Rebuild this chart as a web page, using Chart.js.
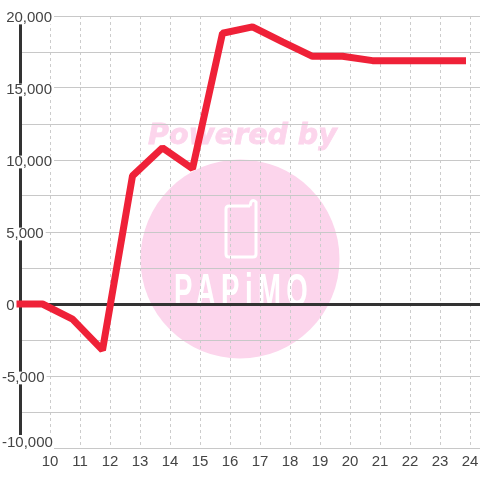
<!DOCTYPE html>
<html>
<head>
<meta charset="utf-8">
<style>
  html, body { margin: 0; padding: 0; background: #fff; }
  #wrap { width: 480px; height: 480px; }
</style>
<script src="https://cdn.jsdelivr.net/npm/chart.js@4"></script>
</head>
<body>
<div id="wrap"><canvas id="chart"></canvas></div>
<script>
// Hours and values
const hours = [9, 9.75, 10.75, 11.75, 12.75, 13.75, 14.75, 15.75, 16.75, 17.75, 18.75, 19.75, 20.75, 21.75, 22.75, 23.75];
const profit = [0, 0, -1050, -3200, 8900, 10850, 9400, 18800, 19250, 18200, 17200, 17200, 16900, 16900, 16900, 16900];
const yTickLabels = ["-10,000", "-5,000", "0", "5,000", "10,000", "15,000", "20,000"];
const yTickValues = [-10000, -5000, 0, 5000, 10000, 15000, 20000];

const PINK = "#fcd5ec";
const LABEL_FONT = '"Liberation Sans"';

// Watermark sits under the grid, so it goes in before the axes are drawn
const watermark = {
  id: "watermark",
  beforeDraw(chart) {
    const ctx = chart.ctx;
    ctx.save();
    ctx.fillStyle = "#fff";
    ctx.fillRect(0, 0, chart.width, chart.height);

    ctx.fillStyle = PINK;
    ctx.beginPath();
    ctx.arc(240, 259, 99.5, 0, Math.PI * 2);
    ctx.fill();

    ctx.font = 'italic bold 28.5px "DejaVu Sans"';
    ctx.textAlign = "left";
    ctx.textBaseline = "alphabetic";
    ctx.strokeStyle = PINK;
    ctx.lineWidth = 0.8;
    ctx.fillText("Powered by", 148, 144);
    ctx.strokeText("Powered by", 148, 144);

    // phone
    ctx.strokeStyle = "#fff";
    ctx.lineWidth = 3;
    ctx.lineJoin = "round";
    ctx.beginPath();
    ctx.moveTo(250, 206);
    ctx.lineTo(229, 206);
    ctx.quadraticCurveTo(226, 206, 226, 209);
    ctx.lineTo(226, 254);
    ctx.quadraticCurveTo(226, 257, 229, 257);
    ctx.lineTo(253, 257);
    ctx.quadraticCurveTo(256, 257, 256, 254);
    ctx.lineTo(256, 202);
    ctx.quadraticCurveTo(253, 199, 251, 202);
    ctx.lineTo(250, 206);
    ctx.stroke();

    // logo letters are tall and narrow, squeeze a bold sans
    ctx.fillStyle = "#fff";
    ctx.translate(174, 306);
    ctx.scale(0.6, 1);
    ctx.font = 'bold 46px "Liberation Sans"';
    ctx.letterSpacing = "9px";
    ctx.fillText("PAPiMO", 0, 0);
    ctx.restore();
  },
};

// The bottom label sits higher than its grid line, which the ticks can't do on their own
const bottomLabel = {
  id: "bottomLabel",
  beforeDatasetsDraw(chart) {
    const ctx = chart.ctx;
    const y = chart.scales.y.getPixelForValue(yTickValues[0]);
    ctx.save();
    ctx.fillStyle = "#fff";
    ctx.fillRect(0, y - 13, 54, 14);
    ctx.fillStyle = "#444";
    ctx.font = "15px " + LABEL_FONT;
    ctx.textAlign = "left";
    ctx.textBaseline = "middle";
    ctx.fillText(yTickLabels[0], 2, y - 5);
    ctx.restore();
  },
};

new Chart(document.getElementById("chart"), {
  type: "line",
  data: {
    datasets: [
      {
        data: hours.map((h, i) => ({ x: h, y: profit[i] })),
        borderColor: "#ef2138",
        borderWidth: 7,
        borderCapStyle: "square",
        borderJoinStyle: "bevel",
        pointRadius: 0,
        tension: 0,
        clip: false,
      },
    ],
  },
  options: {
    responsive: true,
    maintainAspectRatio: false,
    animation: false,
    layout: { padding: { top: 16 } },
    plugins: {
      legend: { display: false },
      tooltip: { enabled: false },
    },
    scales: {
      x: {
        type: "linear",
        min: 9,
        max: 24.3333,
        afterFit(scale) {
          scale.height = 32;
          scale.paddingLeft = 0;
          scale.paddingRight = 0;
        },
        border: { display: false, dash: [3, 3] },
        grid: {
          color: "#cccccc",
          lineWidth: 1,
          drawTicks: false,
        },
        ticks: {
          stepSize: 1,
          includeBounds: false,
          autoSkip: false,
          maxRotation: 0,
          padding: 5,
          color: "#444",
          font: { family: LABEL_FONT, size: 15 },
          callback: (v) => (v === 9 ? "" : String(v)),
        },
      },
      y: {
        min: -10000,
        max: 20000,
        afterFit(scale) {
          scale.width = 20;
        },
        border: { display: true, color: "#333", width: 3 },
        grid: {
          color: (c) => (c.tick && c.tick.value === 0 ? "#333" : "#c8c8c8"),
          lineWidth: (c) => (c.tick && c.tick.value === 0 ? 3 : 1),
          drawTicks: false,
        },
        ticks: {
          stepSize: 2500,
          autoSkip: false,
          // mirrored so the labels can run over the plot, negative padding pulls them back to the left edge
          mirror: true,
          padding: -18,
          labelOffset: 2,
          color: "#444",
          showLabelBackdrop: (c) => c.tick.value !== yTickValues[0] && yTickValues.includes(c.tick.value),
          backdropColor: "#fff",
          backdropPadding: { x: 2, y: 0 },
          font: { family: LABEL_FONT, size: 15, lineHeight: 0.85 },
          callback(v) {
            const i = yTickValues.indexOf(v);
            if (i <= 0) return "";
            // positives start one minus-width in
            return v < 0 ? yTickLabels[i] : " " + yTickLabels[i];
          },
        },
      },
    },
  },
  plugins: [watermark, bottomLabel],
});
</script>
</body>
</html>
